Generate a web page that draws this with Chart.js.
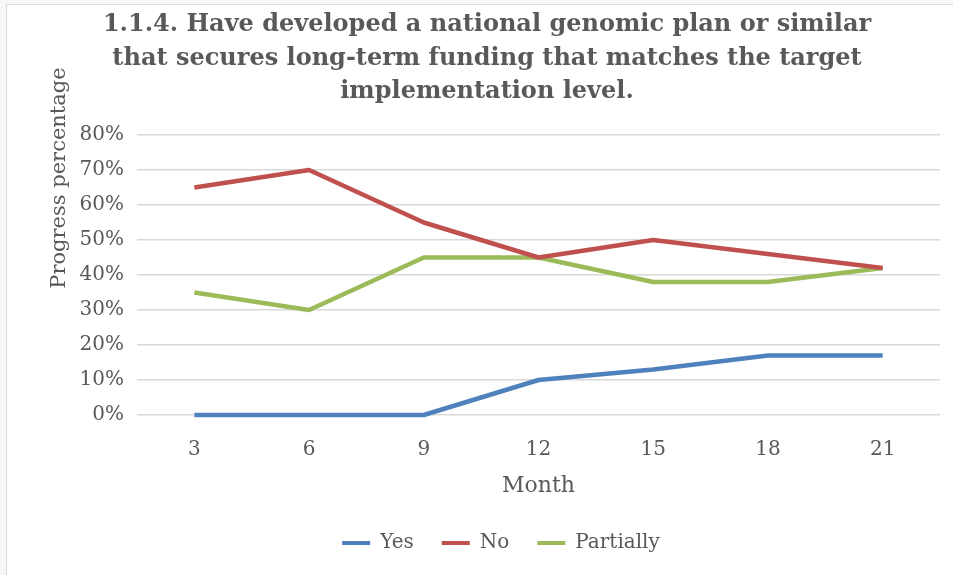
<!DOCTYPE html>
<html><head><meta charset="utf-8">
<script src="https://cdn.jsdelivr.net/npm/chart.js@4/dist/chart.umd.min.js"></script>
<style>
html,body{margin:0;padding:0;background:#f7f7f7;overflow:hidden;}
#frame{position:absolute;left:6px;top:4px;width:947px;height:571px;background:#fff;border-left:1px solid #d9d9d9;border-top:1px solid #d9d9d9;}
#c{position:absolute;left:0;top:0;}
</style></head>
<body>
<div id="frame"></div>
<canvas id="c" width="953" height="575"></canvas>
<script>
const months = ['3','6','9','12','15','18','21'];
const yesValues = [0, 0, 0, 10, 13, 17, 17];
const noValues = [65, 70, 55, 45, 50, 46, 42];
const partiallyValues = [35, 30, 45, 45, 38, 38, 42];
const seriesNames = ['Yes', 'No', 'Partially'];
const titleLines = [
  '1.1.4. Have developed a national genomic plan or similar',
  'that secures long-term funding that matches the target',
  'implementation level.'
];
const xTitle = 'Month';
const yTitle = 'Progress percentage';

const FONT = '"DejaVu Serif", "Liberation Serif", serif';
const TXT = '#595959';

const textPlugin = {
  id: 'textPlugin',
  afterDraw(chart) {
    const ctx = chart.ctx;
    ctx.save();
    ctx.fillStyle = TXT;
    ctx.textAlign = 'center';
    ctx.textBaseline = 'middle';
    ctx.font = 'bold 24px ' + FONT;
    titleLines.forEach((t, i) => ctx.fillText(t, 487, 25 + i * 33.5));
    ctx.translate(60, 178);
    ctx.rotate(-Math.PI / 2);
    ctx.font = '21px ' + FONT;
    ctx.fillText(yTitle, 0, 0);
    ctx.restore();
  }
};

new Chart(document.getElementById('c'), {
  type: 'line',
  data: {
    labels: months,
    datasets: [
      { label: seriesNames[0], data: yesValues, borderColor: '#4F81BD', backgroundColor: '#4F81BD', clip: false },
      { label: seriesNames[1], data: noValues, borderColor: '#C0504D', backgroundColor: '#C0504D', clip: false },
      { label: seriesNames[2], data: partiallyValues, borderColor: '#9BBB59', backgroundColor: '#9BBB59', clip: false }
    ]
  },
  options: {
    responsive: false,
    animation: false,
    elements: {
      line: { borderWidth: 4.5, tension: 0, borderCapStyle: 'butt', borderJoinStyle: 'round' },
      point: { radius: 0, hoverRadius: 0 }
    },
    layout: { padding: { top: 135, left: 62, right: 13, bottom: 12 } },
    plugins: {
      legend: {
        position: 'bottom',
        labels: {
          color: TXT,
          font: { family: FONT, size: 20 },
          boxWidth: 28,
          boxHeight: 4,
          padding: 28,
          generateLabels: chart => Chart.defaults.plugins.legend.labels.generateLabels(chart)
            .map(l => Object.assign(l, { lineWidth: 0 }))
        }
      },
      title: { display: false },
      tooltip: { enabled: false }
    },
    scales: {
      x: {
        offset: true,
        grid: { display: false, drawTicks: false },
        border: { display: false },
        ticks: { color: TXT, font: { family: FONT, size: 20 }, padding: 23, maxRotation: 0 },
        title: { display: true, text: xTitle, color: TXT, font: { family: FONT, size: 22 }, padding: { top: 0, bottom: 6 } },
        afterFit: s => { s.height = 90; }
      },
      y: {
        min: 0, max: 80,
        ticks: { stepSize: 10, color: TXT, font: { family: FONT, size: 20 }, padding: 13, callback: v => v + '%' },
        grid: { color: '#d9d9d9', lineWidth: 1.5, drawTicks: false },
        border: { display: false },
        afterFit: s => { s.width = 75; }
      }
    }
  },
  plugins: [textPlugin]
});
</script>
</body></html>
